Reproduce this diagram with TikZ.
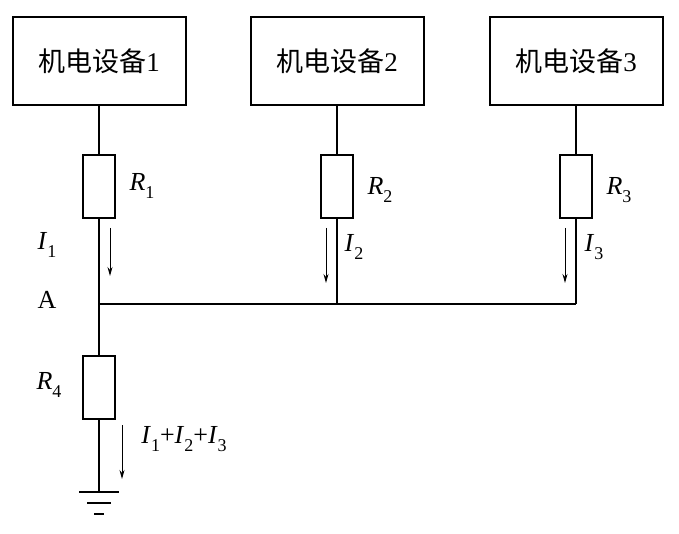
\documentclass[tikz,border=0pt]{standalone}
\usepackage{fontspec}
\setmainfont{Liberation Serif}
\newfontfamily\cjk{Noto Sans CJK SC}
\usetikzlibrary{arrows.meta}
\newcommand{\vsub}[2]{\textit{#1}\raisebox{-0.3em}{\fontsize{18}{18}\selectfont #2}}
\begin{document}
\begin{tikzpicture}[x=1pt,y=-1pt,line width=1.2pt,
 box/.style={draw,line width=2pt,minimum width=173pt,minimum height=88pt,inner sep=0pt,font=\fontsize{27}{27}\selectfont},
 res/.style={draw,line width=2pt,minimum width=32pt,minimum height=63pt,inner sep=0pt},
 lab/.style={font=\fontsize{26}{26}\selectfont,inner sep=0pt},
 cur/.style={-{Stealth[length=9pt,width=5pt]},line width=1pt}]
\useasboundingbox (0,0) rectangle (679,534);
\node[box] (b1) at (99,61) {{\cjk 机电设备}1};
\node[box] (b2) at (337,61) {{\cjk 机电设备}2};
\node[box] (b3) at (576,61) {{\cjk 机电设备}3};
\node[res] (r1) at (99,187) {};
\node[res] (r2) at (337,187) {};
\node[res] (r3) at (576,187) {};
\node[res] (r4) at (99,387) {};
\coordinate (A) at (99,304);
\coordinate (j2) at (337,304);
\coordinate (j3) at (576,304);
\coordinate (g) at (99,492);
\draw (b1.south) -- (r1.north); \draw (r1.south) -- (A) -- (r4.north); \draw (r4.south) -- (g);
\draw (b2.south) -- (r2.north); \draw (r2.south) -- (j2);
\draw (b3.south) -- (r3.north); \draw (r3.south) -- (j3);
\draw (A) -- (j3);
\draw (79,492) -- (119,492);
\draw (87,503) -- (111,503);
\draw (94,514) -- (104,514);
\coordinate (a1s) at (110,228); \coordinate (a1e) at (110,276);
\coordinate (a2s) at (326,228); \coordinate (a2e) at (326,283);
\coordinate (a3s) at (565,228); \coordinate (a3e) at (565,283);
\coordinate (a4s) at (122,425); \coordinate (a4e) at (122,479);
\draw[cur] (a1s) -- (a1e);
\draw[cur] (a2s) -- (a2e);
\draw[cur] (a3s) -- (a3e);
\draw[cur] (a4s) -- (a4e);
\node[lab] (l1) at (142,186) {\vsub{R}{1}};
\node[lab] (l2) at (380,190) {\vsub{R}{2}};
\node[lab] (l3) at (619,190) {\vsub{R}{3}};
\node[lab] (l4) at (49,385) {\vsub{R}{4}};
\node[lab] (i1) at (47,245) {\vsub{I}{1}};
\node[lab] (i2) at (354,247) {\vsub{I}{2}};
\node[lab] (i3) at (594,247) {\vsub{I}{3}};
\node[lab] (la) at (47,300) {A};
\node[lab] (i4) at (184,439) {\vsub{I}{1}+\vsub{I}{2}+\vsub{I}{3}};
\end{tikzpicture}
\end{document}
